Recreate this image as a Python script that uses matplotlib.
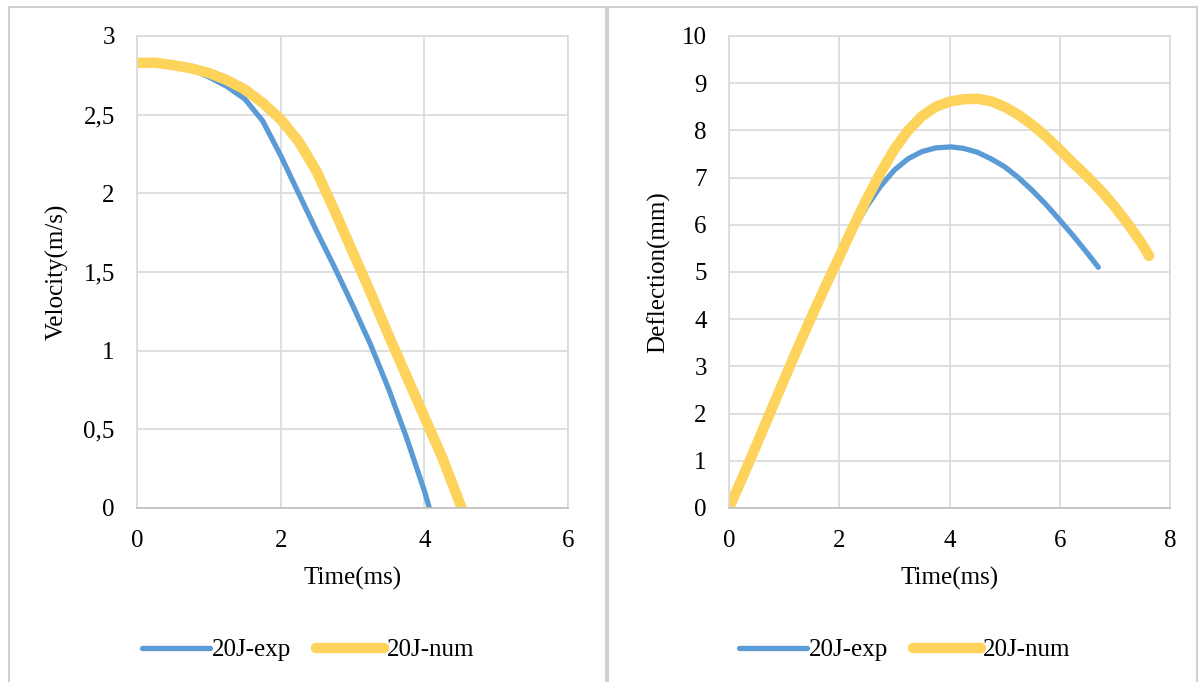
import numpy as np
import matplotlib.pyplot as plt
from matplotlib.patches import Rectangle
from matplotlib.ticker import FixedLocator, FixedFormatter

plt.rcParams['font.family'] = ['Liberation Serif', 'DejaVu Serif']
plt.rcParams['font.size'] = 18

# velocity vs time (left)
t_vel_exp = [0, 0.25, 0.5, 0.75, 1.0, 1.25, 1.5, 1.75, 2.0, 2.25, 2.5, 2.75,
             3.0, 3.25, 3.5, 3.75, 4.0, 4.07]
v_exp = [2.83, 2.83, 2.815, 2.79, 2.74, 2.68, 2.6, 2.46, 2.24, 2.0, 1.76, 1.53,
         1.29, 1.04, 0.76, 0.45, 0.11, 0.0]
t_vel_num = [0, 0.25, 0.5, 0.75, 1.0, 1.25, 1.5, 1.75, 2.0, 2.25, 2.5, 2.75,
             3.0, 3.25, 3.5, 3.75, 4.0, 4.25, 4.52]
v_num = [2.83, 2.83, 2.815, 2.795, 2.765, 2.72, 2.66, 2.575, 2.47, 2.33, 2.14, 1.89,
         1.63, 1.37, 1.1, 0.84, 0.58, 0.32, 0.0]

# deflection vs time (right)
t_def_exp = [0, 0.25, 0.5, 0.75, 1.0, 1.25, 1.5, 1.75, 2.0, 2.25, 2.5, 2.75, 3.0,
             3.25, 3.5, 3.75, 4.03, 4.25, 4.5, 4.75, 5.0, 5.25, 5.5, 5.75, 6.0,
             6.25, 6.5, 6.7]
d_exp = [0, 0.66, 1.34, 2.03, 2.72, 3.4, 4.06, 4.7, 5.3, 5.88, 6.39, 6.82, 7.16,
         7.4, 7.55, 7.63, 7.65, 7.62, 7.54, 7.4, 7.23, 7.0, 6.73, 6.43, 6.1,
         5.76, 5.4, 5.1]
t_def_num = [0, 0.25, 0.5, 0.75, 1.0, 1.25, 1.5, 1.75, 2.0, 2.25, 2.5, 2.75, 3.0,
             3.25, 3.5, 3.75, 4.0, 4.25, 4.5, 4.75, 5.0, 5.25, 5.5, 5.75, 6.0,
             6.25, 6.5, 6.75, 7.0, 7.25, 7.5, 7.62]
d_num = [0, 0.66, 1.34, 2.03, 2.72, 3.4, 4.06, 4.7, 5.32, 5.95, 6.55, 7.1, 7.6,
         8.0, 8.3, 8.5, 8.61, 8.66, 8.67, 8.62, 8.5, 8.33, 8.12, 7.87, 7.59,
         7.3, 7.02, 6.72, 6.38, 6.0, 5.58, 5.34]

vel_ticks = [0, 0.5, 1, 1.5, 2, 2.5, 3]
vel_labels = ['0', '0,5', '1', '1,5', '2', '2,5', '3']
def_ticks = list(range(0, 11))
time_ticks_left = [0, 2, 4, 6]
time_ticks_right = [0, 2, 4, 6, 8]

blue = '#5B9BD5'
gold = '#FDD35C'
grid_c = '#D9D9D9'

W, H = 1203, 682
fig = plt.figure(figsize=(W / 100, H / 100), dpi=100)

# chart frames
fig.patches.append(Rectangle((9 / W, -0.05), (606 - 9) / W, (H - 7) / H + 0.05,
                             transform=fig.transFigure, fill=False,
                             edgecolor='#D0D0D0', lw=1.5))
fig.patches.append(Rectangle((608 / W, -0.05), (1197 - 608) / W, (H - 7) / H + 0.05,
                             transform=fig.transFigure, fill=False,
                             edgecolor='#D0D0D0', lw=1.5))

ax1 = fig.add_axes([137 / W, (H - 508) / H, (568 - 137) / W, (508 - 36) / H])
ax2 = fig.add_axes([729 / W, (H - 508) / H, (1170 - 729) / W, (508 - 36) / H])

# exp drawn first, num on top (as in the source chart)
ax1.plot(t_vel_exp, v_exp, color=blue, lw=3.8, solid_capstyle='round', label='20J-exp')
ax1.plot(t_vel_num, v_num, color=gold, lw=7.5, solid_capstyle='round', label='20J-num')
ax2.plot(t_def_exp, d_exp, color=blue, lw=3.8, solid_capstyle='round', label='20J-exp')
ax2.plot(t_def_num, d_num, color=gold, lw=7.5, solid_capstyle='round', label='20J-num')

ax1.set_xlim(0, 6)
ax1.set_ylim(0, 3)
ax1.xaxis.set_major_locator(FixedLocator(time_ticks_left))
ax1.yaxis.set_major_locator(FixedLocator(vel_ticks))
ax1.yaxis.set_major_formatter(FixedFormatter(vel_labels))
ax1.set_xlabel('Time(ms)')
ax1.set_ylabel('Velocity(m/s)')
ax1.yaxis.set_label_coords((57 - 137) / 431, 0.5)
ax1.xaxis.set_label_coords(0.5, (508 - 578) / 472)

ax2.set_xlim(0, 8)
ax2.set_ylim(0, 10)
ax2.xaxis.set_major_locator(FixedLocator(time_ticks_right))
ax2.yaxis.set_major_locator(FixedLocator(def_ticks))
ax2.set_xlabel('Time(ms)')
ax2.set_ylabel('Deflection(mm)')
ax2.yaxis.set_label_coords((659 - 729) / 441, 0.5)
ax2.xaxis.set_label_coords(0.5, (508 - 578) / 472)

for ax in (ax1, ax2):
    ax.grid(True, color=grid_c, lw=1.2)
    ax.set_axisbelow(True)
    for s in ax.spines.values():
        s.set_color(grid_c)
        s.set_linewidth(1.2)
    ax.spines['bottom'].set_color('#BFBFBF')
    ax.tick_params(length=0, pad=16, labelsize=18)
    ax.xaxis.label.set_va('center')
    ax.yaxis.label.set_va('center')

for ax, cx in ((ax1, 308), (ax2, 905)):
    h, l = ax.get_legend_handles_labels()
    fig.legend(h, l, loc='center', bbox_to_anchor=(cx / W, (H - 650) / H),
               ncol=2, frameon=False, handlelength=2.7, handletextpad=0.1,
               columnspacing=1.0, fontsize=18)

fig.savefig('out.png', dpi=100, facecolor='white')
